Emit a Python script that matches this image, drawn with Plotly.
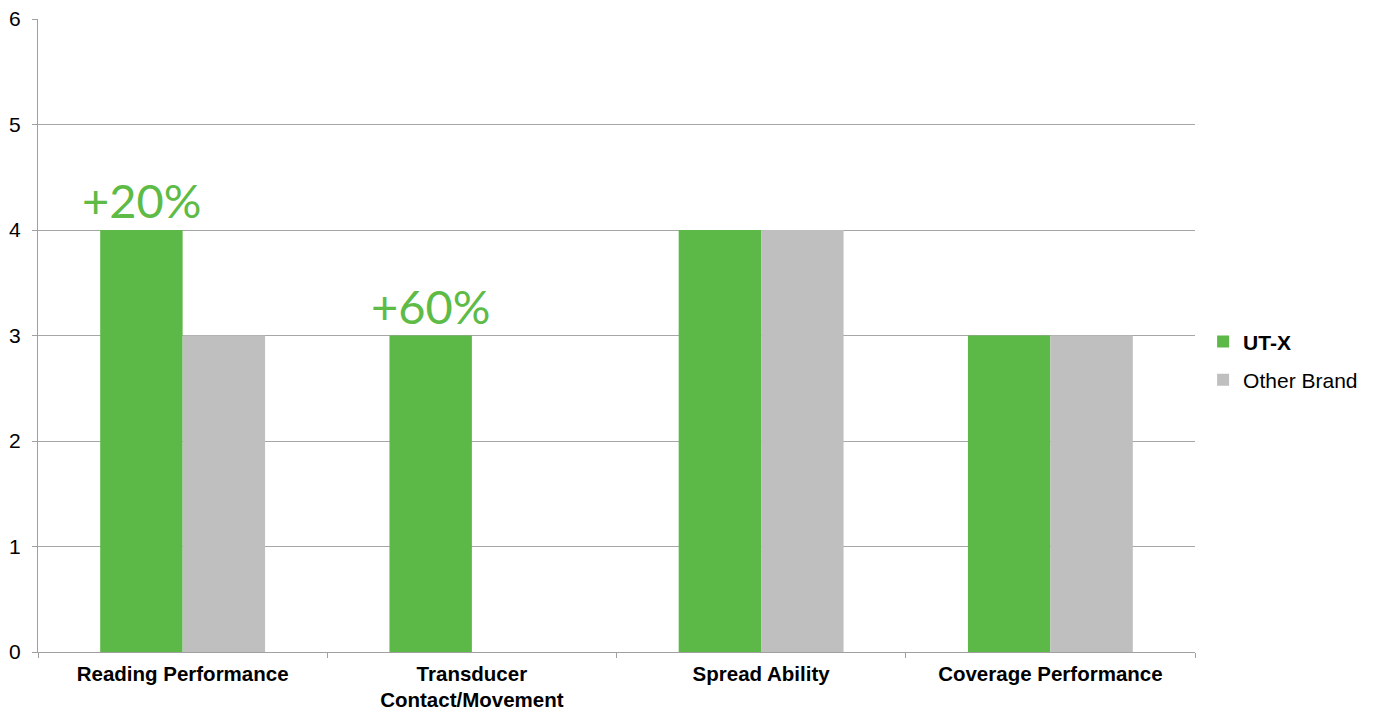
import plotly.graph_objects as go

categories = ["Reading Performance", "Transducer<br>Contact/Movement", "Spread Ability", "Coverage Performance"]
utx_values = [4, 3, 4, 3]
other_values = [3, 0, 4, 3]
annot_labels = ["+20%", "+60%", "", ""]
y_ticks = [0, 1, 2, 3, 4, 5, 6]

GREEN = "#5cb947"
GRAY = "#bfbfbf"
AXIS = "#a0a0a0"

fig = go.Figure()
fig.add_trace(go.Bar(x=categories, y=utx_values, name="<b>UT-X</b>", marker_color=GREEN,
                     marker_line_width=0, legendgroup="a"))
fig.add_trace(go.Bar(x=categories, y=other_values, name="Other Brand", marker_color=GRAY,
                     marker_line_width=0, legendgroup="b"))

for c, v, t in zip(categories, utx_values, annot_labels):
    if t:
        fig.add_annotation(x=c, y=v, text=t, showarrow=False, xref="x", yref="y",
                           xshift=-41, yanchor="bottom", yshift=0,
                           font=dict(family="Lato, Open Sans, sans-serif", size=47,
                                     color="#5dbb46"))

fig.update_layout(
    width=1367, height=704,
    margin=dict(l=30, r=180, t=11, b=60),
    paper_bgcolor="white", plot_bgcolor="white",
    barmode="group", bargap=0.43, bargroupgap=0,
    font=dict(family="Liberation Sans, Arial, sans-serif", size=21, color="black"),
    legend=dict(x=1.007, y=0.46, xanchor="left", yanchor="middle",
                font=dict(size=21), tracegroupgap=8, itemwidth=30, traceorder="grouped"),
    showlegend=True,
)
fig.update_xaxes(showline=True, linecolor=AXIS, linewidth=1.2, automargin=False,
                 ticks="outside", tickson="boundaries", ticklen=5, tickcolor=AXIS,
                 ticklabelstandoff=3, ticklabeloverflow="allow",
                 tickfont=dict(size=20.5),
                 tickprefix="<b>", ticksuffix="</b>")
fig.update_yaxes(range=[0, 6], tickvals=y_ticks, showgrid=True, gridcolor="#a6a6a6", gridwidth=1.2,
                 showline=True, linecolor=AXIS, linewidth=1.2, automargin=False,
                 ticks="outside", ticklen=5, tickcolor=AXIS, zeroline=False,
                 ticklabelstandoff=7, ticklabeloverflow="allow", tickfont=dict(size=21))

fig.write_html("out.html")
